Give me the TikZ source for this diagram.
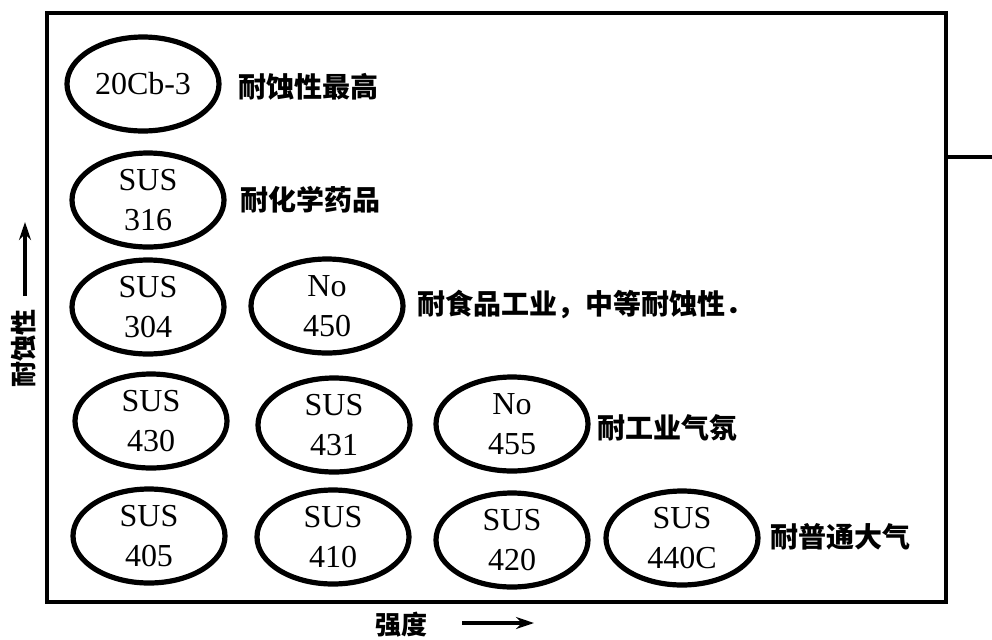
\documentclass[tikz,border=0pt]{standalone}
\usepackage{fontspec}
\setmainfont{Liberation Serif}
\newfontfamily\cjk{Noto Sans CJK SC}
\usetikzlibrary{shapes.geometric,arrows.meta}
\tikzset{
  steel/.style={ellipse,draw,line width=2.6pt,minimum width=76pt,minimum height=47pt,inner sep=0pt,align=center,font=\fontsize{16}{20}\selectfont},
  usage/.style={anchor=west,inner sep=0pt,font=\cjk\bfseries\fontsize{14}{16}\selectfont},
  axislabel/.style={inner sep=0pt,font=\cjk\bfseries\fontsize{13}{15}\selectfont},
  axisarrow/.style={line width=2.4pt,-{Stealth[length=9pt,width=6pt]}},
  frame/.style={line width=2.2pt}
}
\begin{document}
\begin{tikzpicture}[x=0.5pt,y=-0.5pt]
\useasboundingbox (0,0) rectangle (992,639);
% frame
\draw[frame] (47,13) rectangle (946,602);
\coordinate (fr) at (946,157);
\coordinate (edge) at (992,157);
\draw[line width=1.6pt] (fr) -- (edge);
% steels
\node[steel] (a) at (143,84) {20Cb-3};
\node[steel] (b) at (148,200) {SUS\\316};
\node[steel] (c) at (148,307) {SUS\\304};
\node[steel] (d) at (327,306) {No\\450};
\node[steel] (e) at (151,421) {SUS\\430};
\node[steel] (f) at (334,425) {SUS\\431};
\node[steel] (g) at (512,424) {No\\455};
\node[steel] (h) at (149,536) {SUS\\405};
\node[steel] (i) at (333,537) {SUS\\410};
\node[steel] (j) at (512,540) {SUS\\420};
\node[steel] (k) at (682,538) {SUS\\440C};
% usage labels
\node[usage] (la) at (238,87) {耐蚀性最高};
\node[usage] (lb) at (240,200) {耐化学药品};
\node[usage] (lc) at (417,304) {耐食品工业，中等耐蚀性．};
\node[usage] (lg) at (597,428) {耐工业气氛};
\node[usage] (lk) at (770,537) {耐普通大气};
% axes
\node[axislabel,rotate=90] (ylab) at (24,348) {耐蚀性};
\coordinate (ys) at (25,296);
\coordinate (ye) at (25,222);
\draw[axisarrow] (ys) -- (ye);
\node[axislabel] (xlab) at (401,625) {强度};
\coordinate (xs) at (462,623);
\coordinate (xe) at (534,623);
\draw[axisarrow] (xs) -- (xe);
\end{tikzpicture}
\end{document}
